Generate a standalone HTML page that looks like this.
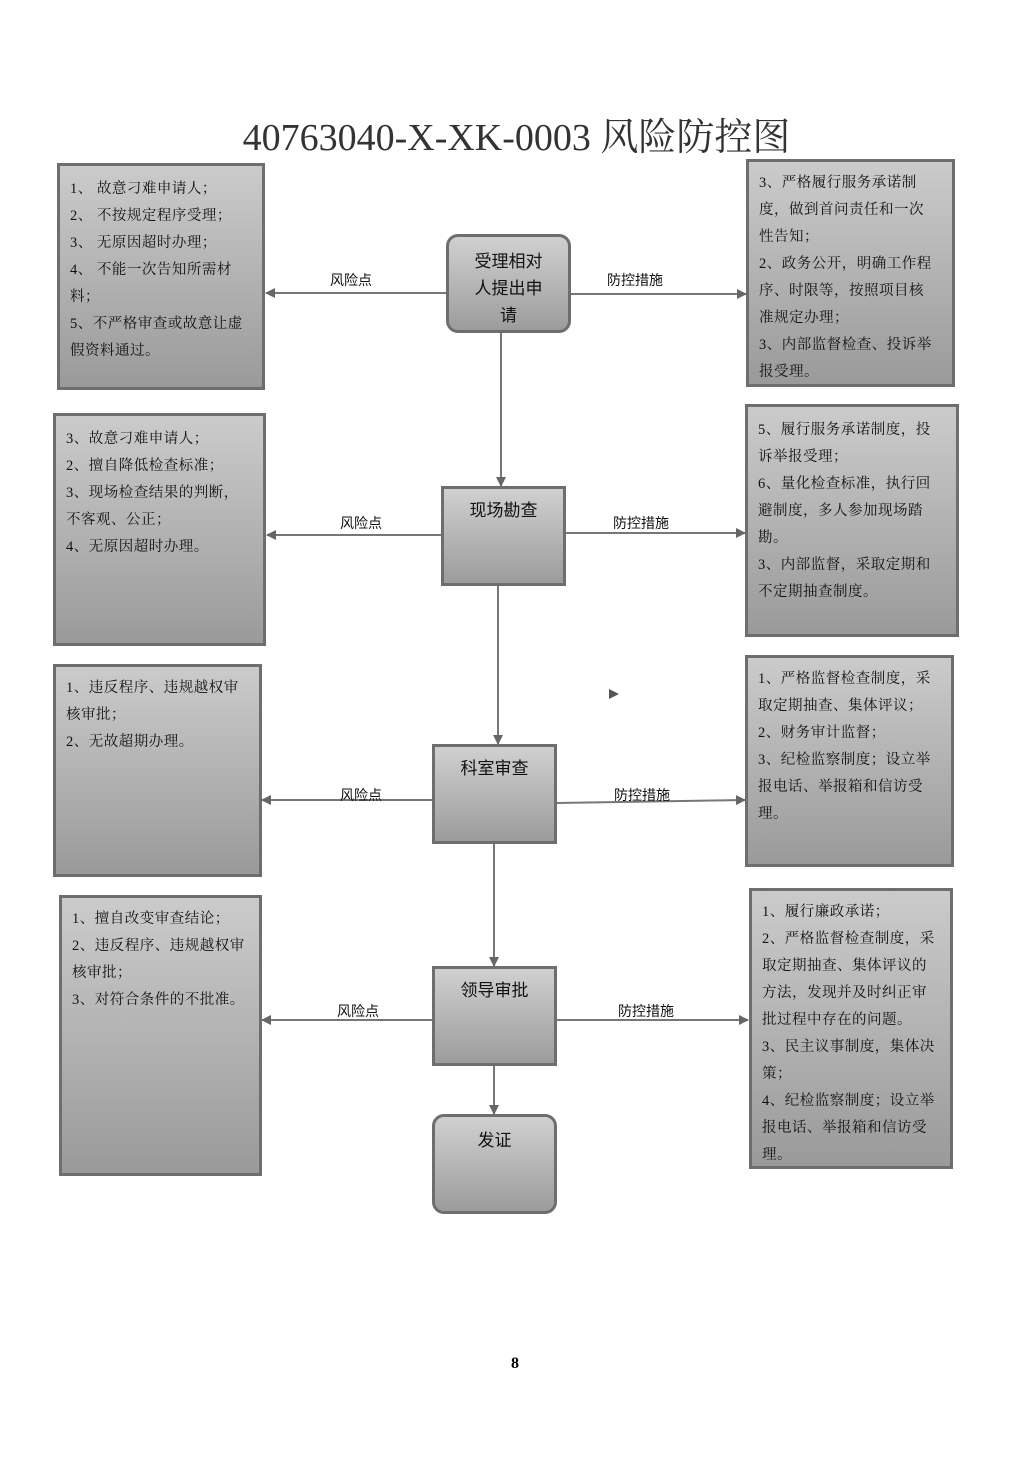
<!DOCTYPE html>
<html><head><meta charset="utf-8"><style>
body{margin:0;width:1033px;height:1460px;background:#fff;position:relative;overflow:hidden;font-family:"Liberation Serif","Noto Serif CJK SC","Noto Sans CJK SC",serif;}
.b{position:absolute;box-sizing:border-box;border:3px solid #6e6e6e;background:linear-gradient(#cbcbcb,#9a9a9a);font-size:14.5px;color:#111;padding:10px 4px 0 10px;line-height:27px;white-space:nowrap;letter-spacing:0.5px;}
.n{position:absolute;box-sizing:border-box;border:3px solid #6e6e6e;background:linear-gradient(#d0d0d0,#9c9c9c);font-size:17px;color:#111;text-align:center;line-height:27px;font-family:"Liberation Sans","Noto Sans CJK SC",sans-serif;white-space:nowrap;}
.lab{position:absolute;font-size:14px;font-family:"Liberation Sans","Noto Sans CJK SC",sans-serif;color:#111;}
svg{position:absolute;left:0;top:0}
</style></head><body>
<div style="position:absolute;left:0;width:1033px;top:106px;text-align:center;font-size:38px;color:#333;">40763040-X-XK-0003 风险防控图</div>
<svg width="1033" height="1460">
<defs><marker id="a" markerWidth="10" markerHeight="10" refX="9" refY="5" orient="auto" markerUnits="userSpaceOnUse"><path d="M0,0 L10,5 L0,10z" fill="#666"/></marker></defs>
<g stroke="#777" stroke-width="2" fill="none">
<line x1="446" y1="293" x2="266" y2="293" marker-end="url(#a)"/>
<line x1="570" y1="294" x2="746" y2="294" marker-end="url(#a)"/>
<line x1="441" y1="535" x2="267" y2="535" marker-end="url(#a)"/>
<line x1="565" y1="533" x2="745" y2="533" marker-end="url(#a)"/>
<line x1="432" y1="800" x2="262" y2="800" marker-end="url(#a)"/>
<line x1="556" y1="803" x2="745" y2="800" marker-end="url(#a)"/>
<line x1="432" y1="1020" x2="262" y2="1020" marker-end="url(#a)"/>
<line x1="556" y1="1020" x2="748" y2="1020" marker-end="url(#a)"/>
<line x1="501" y1="332" x2="501" y2="486" marker-end="url(#a)"/>
<line x1="498" y1="585" x2="498" y2="744" marker-end="url(#a)"/>
<line x1="494" y1="843" x2="494" y2="966" marker-end="url(#a)"/>
<line x1="494" y1="1065" x2="494" y2="1114" marker-end="url(#a)"/>
</g>
<path d="M609,689 L619,694 L609,699z" fill="#555"/>
</svg>
<div class="lab" style="left:330px;top:270px">风险点</div>
<div class="lab" style="left:607px;top:270px">防控措施</div>
<div class="lab" style="left:340px;top:513px">风险点</div>
<div class="lab" style="left:613px;top:513px">防控措施</div>
<div class="lab" style="left:340px;top:785px">风险点</div>
<div class="lab" style="left:614px;top:785px">防控措施</div>
<div class="lab" style="left:337px;top:1001px">风险点</div>
<div class="lab" style="left:618px;top:1001px">防控措施</div>

<div class="b" style="left:57px;top:163px;width:208px;height:227px;">1、 故意刁难申请人；<br>2、 不按规定程序受理；<br>3、 无原因超时办理；<br>4、 不能一次告知所需材<br>料；<br>5、不严格审查或故意让虚<br>假资料通过。</div>
<div class="b" style="left:746px;top:159px;width:209px;height:228px;padding-top:8px">3、严格履行服务承诺制<br>度，做到首问责任和一次<br>性告知；<br>2、政务公开，明确工作程<br>序、时限等，按照项目核<br>准规定办理；<br>3、内部监督检查、投诉举<br>报受理。</div>
<div class="b" style="left:53px;top:413px;width:213px;height:233px;">3、故意刁难申请人；<br>2、擅自降低检查标准；<br>3、现场检查结果的判断，<br>不客观、公正；<br>4、无原因超时办理。</div>
<div class="b" style="left:745px;top:404px;width:214px;height:233px;">5、履行服务承诺制度，投<br>诉举报受理；<br>6、量化检查标准，执行回<br>避制度，多人参加现场踏<br>勘。<br>3、内部监督，采取定期和<br>不定期抽查制度。</div>
<div class="b" style="left:53px;top:664px;width:209px;height:213px;padding-top:8px">1、违反程序、违规越权审<br>核审批；<br>2、无故超期办理。</div>
<div class="b" style="left:745px;top:655px;width:209px;height:212px;padding-top:8px">1、严格监督检查制度，采<br>取定期抽查、集体评议；<br>2、财务审计监督；<br>3、纪检监察制度；设立举<br>报电话、举报箱和信访受<br>理。</div>
<div class="b" style="left:59px;top:895px;width:203px;height:281px;padding-top:8px">1、擅自改变审查结论；<br>2、违反程序、违规越权审<br>核审批；<br>3、对符合条件的不批准。</div>
<div class="b" style="left:749px;top:888px;width:204px;height:281px;padding-top:8px">1、履行廉政承诺；<br>2、严格监督检查制度，采<br>取定期抽查、集体评议的<br>方法，发现并及时纠正审<br>批过程中存在的问题。<br>3、民主议事制度，集体决<br>策；<br>4、纪检监察制度；设立举<br>报电话、举报箱和信访受<br>理。</div>

<div class="n" style="left:446px;top:234px;width:125px;height:99px;border-radius:12px;padding-top:11px;">受理相对<br>人提出申<br>请</div>
<div class="n" style="left:441px;top:486px;width:125px;height:100px;padding-top:8px;">现场勘查</div>
<div class="n" style="left:432px;top:744px;width:125px;height:100px;padding-top:8px;">科室审查</div>
<div class="n" style="left:432px;top:966px;width:125px;height:100px;padding-top:8px;">领导审批</div>
<div class="n" style="left:432px;top:1114px;width:125px;height:100px;border-radius:12px;padding-top:10px;">发证</div>
<div style="position:absolute;left:511px;top:1355px;font-size:16px;font-weight:bold;">8</div>
</body></html>
